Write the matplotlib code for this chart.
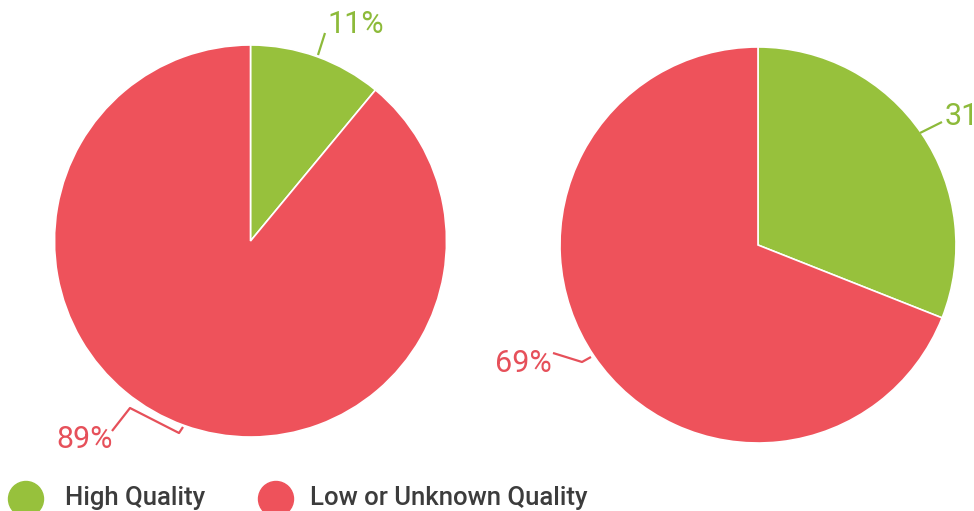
import numpy as np
import matplotlib
matplotlib.use("Agg")
import matplotlib.pyplot as plt
from matplotlib.patches import Circle

# ---- data ----
categories = ["High Quality", "Low or Unknown Quality"]
left_values = [11, 89]
right_values = [31, 69]
left_labels = ["11%", "89%"]
right_labels = ["31%", "69%"]

GREEN = "#97C13C"
RED = "#EE525B"
GREEN_TXT = "#8DBA3A"
RED_TXT = "#E6505A"
colors = [GREEN, RED]

plt.rcParams['font.family'] = ['Roboto', 'DejaVu Sans']

W, H = 974, 511
fig = plt.figure(figsize=(W / 100, H / 100), dpi=100)
ax = fig.add_axes([0, 0, 1, 1])


def Y(yp):
    return H - yp


# pies (pixel geometry converted to data coords with y up)
pies = [
    (left_values, (250.5, 241), 196),
    (right_values, (758, 245), 198),
]
for vals, (cx, cy), r in pies:
    ax.pie(vals, colors=colors, startangle=90, counterclock=False,
           center=(cx, Y(cy)), radius=r, frame=True,
           wedgeprops=dict(edgecolor="white", linewidth=1.2))

ax.set_xlim(0, W)
ax.set_ylim(0, H)
ax.set_aspect("equal")
ax.axis("off")

fs = 22

# leader lines and labels
def leader(pts, color):
    xs = [p[0] for p in pts]
    ys = [Y(p[1]) for p in pts]
    ax.plot(xs, ys, color=color, lw=1.6, solid_capstyle="butt", clip_on=False)

leader([(318, 55), (325, 33)], GREEN_TXT)
ax.text(327, Y(33), left_labels[0], color=GREEN_TXT, fontsize=fs,
        ha="left", va="baseline")

leader([(183, 427), (179, 433), (130, 408), (112, 431)], RED_TXT)
ax.text(113, Y(448), left_labels[1], color=RED_TXT, fontsize=fs,
        ha="right", va="baseline")

leader([(591, 357), (582, 362), (553, 353)], RED_TXT)
ax.text(552, Y(372), right_labels[1], color=RED_TXT, fontsize=fs,
        ha="right", va="baseline")

leader([(920, 133), (942, 122)], GREEN_TXT)
ax.text(945, Y(125), right_labels[0], color=GREEN_TXT, fontsize=fs,
        ha="left", va="baseline", clip_on=False)

# legend
leg_x = [(26, 65), (276, 310)]
for (mx, tx), c, name in zip(leg_x, colors, categories):
    ax.add_patch(Circle((mx, Y(499)), 17.5, color=c, clip_on=False))
    ax.text(tx, Y(505), name, color="#3C3C3C", fontsize=18.5,
            fontweight="medium", ha="left", va="baseline")

fig.savefig("out.png", dpi=100)
